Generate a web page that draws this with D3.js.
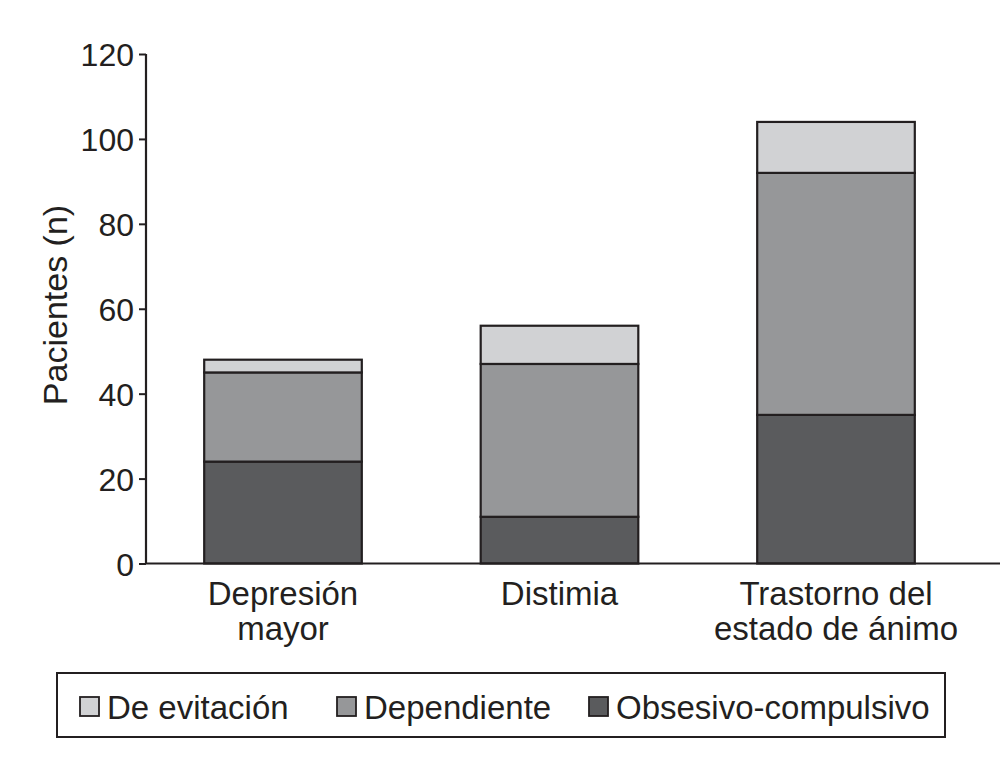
<!DOCTYPE html>
<html><head><meta charset="utf-8">
<script src="https://cdn.jsdelivr.net/npm/d3@7"></script>
<style>body{margin:0;background:#fff}svg{display:block}text{font-family:"Liberation Sans",Arial,sans-serif;fill:#231f20}</style>
</head><body>
<svg id="c" width="1004" height="775"></svg>
<script>
const categories = [["Depresión","mayor"],["Distimia"],["Trastorno del","estado de ánimo"]];
const seriesNames = ["Obsesivo-compulsivo","Dependiente","De evitación"];
const obsesivo = [24, 11, 35];
const dependiente = [21, 36, 57];
const evitacion = [3, 9, 12];
const yTicks = [0, 20, 40, 60, 80, 100, 120];
const colors = ["#5a5b5d", "#969799", "#d1d2d4"];
const legendOrder = [2, 1, 0];

const svg = d3.select("#c");
const ink = "#231f20";
const x = d3.scaleBand().domain(d3.range(categories.length)).range([144.75, 974.25]).paddingInner(0.43).paddingOuter(0.215);
const y = d3.scaleLinear().domain([0, 120]).range([563.5, 54]);

const rows = categories.map((c, i) => ({i, s0: obsesivo[i], s1: dependiente[i], s2: evitacion[i]}));
const stack = d3.stack().keys(["s0","s1","s2"])(rows);

stack.forEach((layer, k) => {
  svg.append("g").selectAll("rect").data(layer).join("rect")
    .attr("x", d => x(d.data.i))
    .attr("width", x.bandwidth())
    .attr("y", d => y(d[1]))
    .attr("height", d => y(d[0]) - y(d[1]))
    .attr("fill", colors[k])
    .attr("stroke", ink).attr("stroke-width", 2.2);
});

// y axis
const ya = svg.append("g").attr("transform", "translate(146,0)")
  .call(d3.axisLeft(y).tickValues(yTicks).tickSize(7).tickPadding(5).tickFormat(d3.format("d")));
ya.select(".domain").attr("stroke", ink).attr("stroke-width", 2.2).attr("d", "M0,54V563.5");
ya.selectAll(".tick line").attr("stroke", ink).attr("stroke-width", 2);
ya.selectAll(".tick text").attr("font-size", 32).attr("fill", ink).attr("font-family", "Liberation Sans, Arial, sans-serif").attr("dy", "0.36em");

// x axis line
svg.append("line").attr("x1", 146).attr("x2", 1000).attr("y1", y(0)).attr("y2", y(0))
  .attr("stroke", ink).attr("stroke-width", 2.2);

// category labels
categories.forEach((lines, i) => {
  const cx = x(i) + x.bandwidth()/2;
  const t = svg.append("text").attr("text-anchor", "middle").attr("font-size", 33)
    .attr("x", cx).attr("y", 605);
  lines.forEach((l, j) => t.append("tspan").attr("x", cx).attr("dy", j ? 35 : 0).text(l));
});

// y label
svg.append("text").attr("transform", "translate(67,305) rotate(-90)")
  .attr("text-anchor", "middle").attr("font-size", 34).text("Pacientes (n)");

// legend
svg.append("rect").attr("x", 57).attr("y", 673).attr("width", 888).attr("height", 64)
  .attr("fill", "none").attr("stroke", ink).attr("stroke-width", 2);
const lx = [80, 337, 589];
legendOrder.forEach((k, j) => {
  svg.append("rect").attr("x", lx[j]).attr("y", 697).attr("width", 19).attr("height", 19)
    .attr("fill", colors[k]).attr("stroke", ink).attr("stroke-width", 1.8);
  svg.append("text").attr("x", lx[j] + 27).attr("y", 719).attr("font-size", 33).text(seriesNames[k]);
});
</script>
</body></html>
